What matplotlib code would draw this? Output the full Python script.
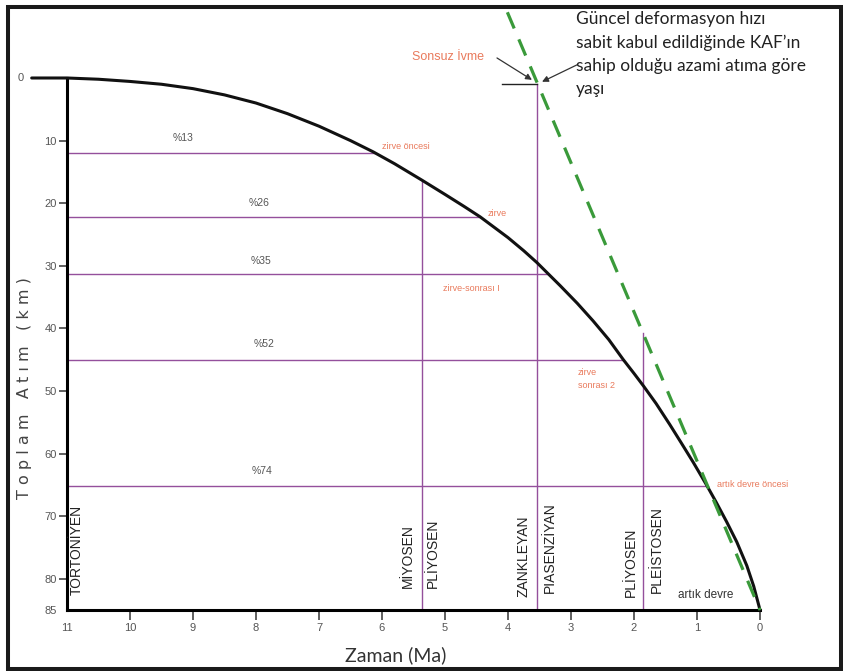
import matplotlib.pyplot as plt
from matplotlib.patches import Rectangle

# egri: zaman (Ma) - toplam atim (km), resimden okunan noktalar
curve_ma = [11.56, 11.0, 10.5, 10.0, 9.5, 9.0, 8.5, 8.0, 7.5, 7.0, 6.5, 6.14, 5.8, 5.37,
            5.0, 4.7, 4.44, 4.2, 4.0, 3.75, 3.54, 3.38, 3.17, 2.9, 2.65, 2.4, 2.17,
            2.0, 1.85, 1.65, 1.43, 1.25, 1.06, 0.85, 0.7, 0.53, 0.37, 0.21, 0.1, 0.0]
curve_km = [0, 0, 0.2, 0.55, 1.0, 1.7, 2.7, 4.0, 5.7, 7.7, 10.0, 11.8, 13.7, 16.3,
            18.6, 20.5, 22.2, 24.0, 25.5, 27.6, 29.5, 31.1, 33.2, 36.0, 38.8, 41.8, 45.0,
            47.2, 49.2, 52.0, 55.4, 58.3, 61.4, 65.0, 67.7, 70.9, 74.1, 77.9, 81.2, 85]

# yatay seviyeler (km) ve egriyi kestikleri zaman (Ma)
level_km = [12.0, 22.2, 31.3, 45.1, 65.2]
level_end_ma = [6.12, 4.44, 3.36, 2.17, 0.84]
level_pct = ["%13", "%26", "%35", "%52", "%74"]

# dikey sinirlar
vline_ma = [5.37, 3.545, 1.85]
vline_top_km = [16.3, 1.0, 40.7]

# guncel deformasyon hizi dogrusu
rate_ma = [4.01, 0.0]
rate_km = [-10.5, 85]

stage_labels = ["TORTONİYEN", "MİYOSEN", "PLİYOSEN", "ZANKLEYAN", "PIASENZİYAN", "PLİYOSEN", "PLEİSTOSEN"]
stage_ma = [10.84, 5.59, 5.19, 3.76, 3.33, 2.05, 1.63]
stage_km = [82.6, 81.5, 81.5, 82.9, 82.3, 82.9, 82.3]

x_ticks = [11, 10, 9, 8, 7, 6, 5, 4, 3, 2, 1, 0]
y_ticks = [10, 20, 30, 40, 50, 60, 70, 80, 85]

plt.rcParams['font.family'] = ['Liberation Sans', 'DejaVu Sans']

purple = '#94509c'
orange = '#e97a5c'

fig = plt.figure(figsize=(8.43, 6.71), dpi=100)
ax = fig.add_axes([0, 0, 1, 1])
ax.set_xlim(12.063, -1.317)
ax.set_ylim(94.74, -12.46)
ax.patch.set_alpha(0)

for s in ['top', 'right']:
    ax.spines[s].set_visible(False)
ax.spines['left'].set_position(('data', 11))
ax.spines['left'].set_bounds(0, 85)
ax.spines['bottom'].set_position(('data', 85))
ax.spines['bottom'].set_bounds(0, 11)
ax.spines['left'].set_linewidth(2.2)
ax.spines['bottom'].set_linewidth(2.2)
ax.spines['left'].set_capstyle('projecting')

ax.set_xticks(x_ticks)
ax.set_xticklabels([str(t) for t in x_ticks])
ax.set_yticks(y_ticks)
ax.set_yticklabels([str(t) for t in y_ticks])
ax.tick_params(axis='x', direction='out', length=7, width=1.2, color='#444',
               pad=2, labelsize=8, labelcolor='#555')
ax.tick_params(axis='y', direction='out', length=6, width=1.2, color='#444',
               pad=1.5, labelsize=8, labelcolor='#555')
ax.xaxis.get_major_ticks()[0].tick1line.set_visible(False)
ax.yaxis.get_major_ticks()[-1].tick1line.set_visible(False)
ax.text(11.73, 0, "0", ha='center', va='center', fontsize=8, color='#555')

# yatay seviyeler
for km, end in zip(level_km, level_end_ma):
    ax.plot([11, end], [km, km], color=purple, lw=1.0, zorder=2)

ax.text(9.16, 9.6, level_pct[0], ha='center', va='center', fontsize=7.5, color='#555')
ax.text(7.95, 20.0, level_pct[1], ha='center', va='center', fontsize=7.5, color='#555')
ax.text(7.92, 29.2, level_pct[2], ha='center', va='center', fontsize=7.5, color='#555')
ax.text(7.87, 42.5, level_pct[3], ha='center', va='center', fontsize=7.5, color='#555')
ax.text(7.90, 62.8, level_pct[4], ha='center', va='center', fontsize=7.5, color='#555')

# dikey sinirlar
for m, top in zip(vline_ma, vline_top_km):
    ax.plot([m, m], [top, 85], color=purple, lw=1.0, zorder=2)
ax.plot([4.1, vline_ma[1]], [1.0, 1.0], color='#222', lw=1.0, zorder=2)

# egri ve dogru
ax.plot(curve_ma, curve_km, color='#111', lw=2.2, zorder=4,
        solid_capstyle='round', solid_joinstyle='round')
ax.plot(rate_ma, rate_km, color='#3a9a3a', lw=2.3, dashes=(5.5, 3.7), zorder=5)

# evre etiketleri
ax.text(6.0, 10.9, "zirve öncesi", ha='left', va='center', fontsize=6.5, color=orange)
ax.text(4.33, 21.6, "zirve", ha='left', va='center', fontsize=6.5, color=orange)
ax.text(5.03, 33.6, "zirve-sonrası I", ha='left', va='center', fontsize=6.5, color=orange)
ax.text(2.89, 48.1, "zirve\nsonrası 2", ha='left', va='center', fontsize=6.5,
        color=orange, linespacing=1.5)
ax.text(0.68, 64.9, "artık devre öncesi", ha='left', va='center', fontsize=6.5, color=orange)
ax.text(1.30, 82.6, "artık devre", ha='left', va='center', fontsize=8.5, color='#333')
ax.text(5.52, -3.4, "Sonsuz İvme", ha='left', va='center', fontsize=9, color=orange)

for lab, m, km in zip(stage_labels, stage_ma, stage_km):
    ax.text(m, km, lab, rotation=90, ha='center', va='bottom', fontsize=10, color='#222')

# oklar
ax.annotate("", xy=(3.62, 0.3), xytext=(4.175, -3.2),
            arrowprops=dict(arrowstyle='-|>', color='#333', lw=0.9, mutation_scale=9,
                            shrinkA=0, shrinkB=0))
ax.annotate("", xy=(3.46, 0.6), xytext=(2.905, -2.1),
            arrowprops=dict(arrowstyle='-|>', color='#333', lw=0.9, mutation_scale=9,
                            shrinkA=0, shrinkB=0))

ax.text(2.92, -10.7, "Güncel deformasyon hızı\nsabit kabul edildiğinde KAF’ın\n"
        "sahip olduğu azami atıma göre\nyaşı",
        ha='left', va='top', fontsize=12.5, color='#222', family='Lato', linespacing=1.55)

ax.text(5.78, 92.2, "Zaman (Ma)", ha='center', va='center', fontsize=14,
        color='#333', family='Lato')
ax.text(11.68, 49.5, "T o p l a m   A t ı m   ( k m )", rotation=90, ha='center',
        va='center', fontsize=11.5, color='#444', family='DejaVu Sans')

fig.patches.append(Rectangle((8 / 843, 2 / 671), 833 / 843, 662 / 671, fill=False,
                             edgecolor='#1a1a1a', lw=2.9, transform=fig.transFigure))

fig.savefig("out.png", dpi=100)
